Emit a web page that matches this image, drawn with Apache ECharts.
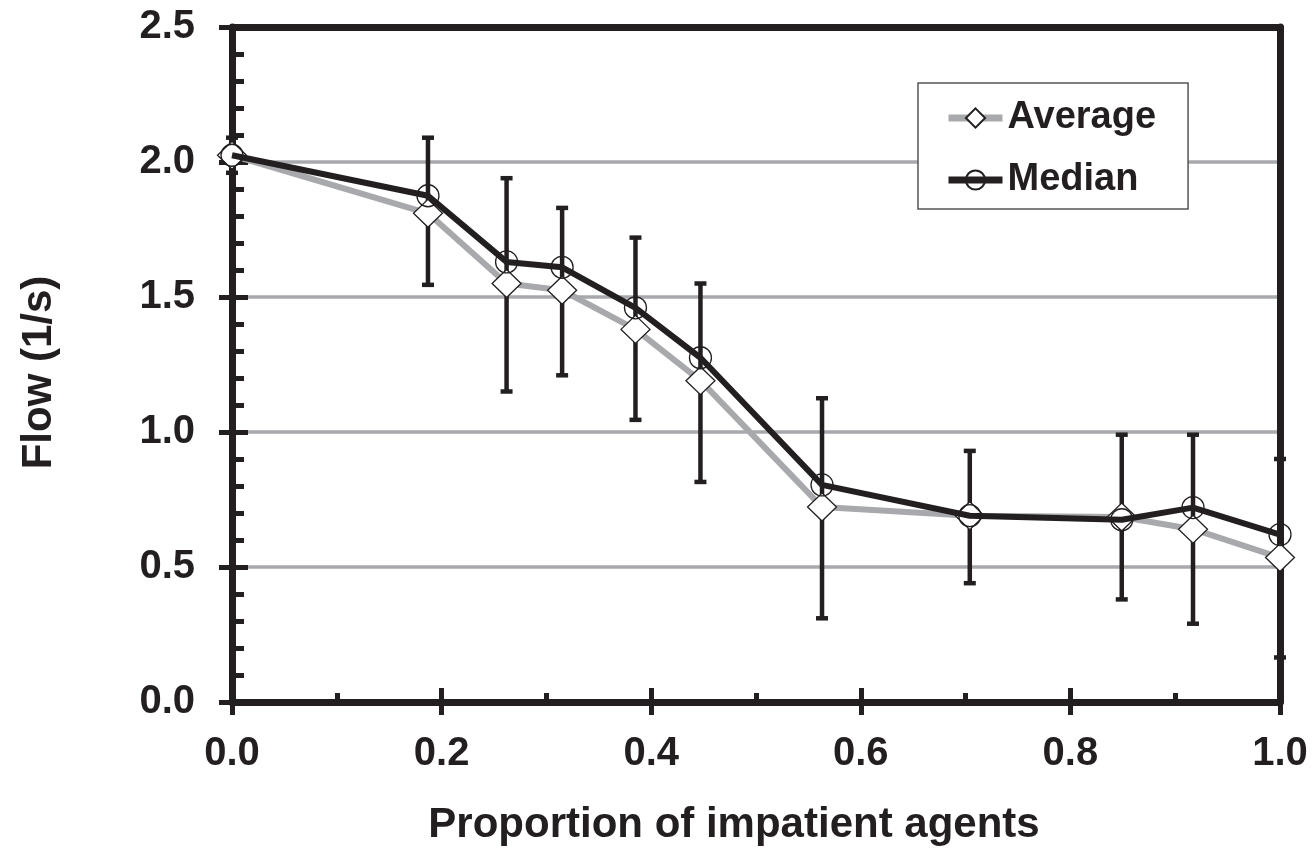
<!DOCTYPE html>
<html>
<head>
<meta charset="utf-8">
<script src="https://cdn.jsdelivr.net/npm/echarts@6/dist/echarts.min.js"></script>
<style>
  html, body { margin: 0; padding: 0; background: #fff; }
  #main { width: 1314px; height: 855px; }
</style>
</head>
<body>
<div id="main"></div>
<script>
// proportion of impatient agents (x)
var proportion = [0, 0.187, 0.262, 0.315, 0.385, 0.447, 0.563, 0.704, 0.849, 0.917, 1.0];
// flow values
var average = [2.025, 1.81, 1.55, 1.525, 1.38, 1.19, 0.722, 0.69, 0.685, 0.64, 0.535];
var median = [2.025, 1.875, 1.63, 1.61, 1.46, 1.275, 0.804, 0.69, 0.675, 0.72, 0.62];
// error bar ends
var errLow = [1.96, 1.545, 1.15, 1.21, 1.045, 0.815, 0.31, 0.44, 0.38, 0.29, 0.165];
var errHigh = [2.09, 2.09, 1.94, 1.83, 1.72, 1.55, 1.125, 0.93, 0.99, 0.99, 0.90];

var ink = '#231f20';
var grey = '#a7a9ac';
var font = 'Liberation Sans';

var avgData = proportion.map(function (x, i) { return [x, average[i]]; });
var medData = proportion.map(function (x, i) { return [x, median[i]]; });
var errData = proportion.map(function (x, i) { return [x, errLow[i], errHigh[i]]; });

var chart = echarts.init(document.getElementById('main'));

var hiddenAxisBits = {
    axisLabel: { show: false },
    splitLine: { show: false }
};

chart.setOption({
    backgroundColor: '#fff',
    animation: false,
    grid: { left: 232, top: 27, width: 1048, height: 675 },
    legend: {
        data: ['Average', 'Median'],
        orient: 'vertical',
        left: 918,
        top: 83,
        padding: [16, 32, 10, 27],
        itemGap: 24,
        itemWidth: 54,
        itemHeight: 24,
        backgroundColor: '#fff',
        borderColor: '#555',
        borderWidth: 1.5,
        borderRadius: 0,
        lineStyle: { width: 7 },
        textStyle: { fontFamily: font, fontWeight: 'bold', fontSize: 38, color: ink }
    },
    xAxis: [
        {
            type: 'value', min: 0, max: 1, interval: 0.2,
            name: 'Proportion of impatient agents',
            nameLocation: 'middle', nameGap: 102,
            nameTextStyle: {
                fontFamily: font, fontWeight: 'bold', fontSize: 42, color: ink,
                padding: [0, 44, 0, 0]
            },
            axisLine: { show: true, onZero: false, lineStyle: { color: ink, width: 7 } },
            axisTick: { show: true, inside: false, length: 13, lineStyle: { color: ink, width: 5 } },
            axisLabel: {
                margin: 32, fontFamily: font, fontWeight: 'bold', fontSize: 40, color: ink,
                formatter: function (v) { return v.toFixed(1); }
            },
            splitLine: { show: false }
        },
        Object.assign({
            type: 'value', min: 0, max: 1, interval: 0.2, position: 'bottom',
            axisLine: { show: false, onZero: false },
            axisTick: { show: true, inside: true, length: 14, lineStyle: { color: ink, width: 5 } },
            minorTick: { show: true, splitNumber: 2, length: 9, lineStyle: { color: ink, width: 5 } }
        }, hiddenAxisBits),
        Object.assign({
            type: 'value', min: 0, max: 1, position: 'top', z: 3,
            axisLine: { show: true, onZero: false, lineStyle: { color: ink, width: 7 } },
            axisTick: { show: false }
        }, hiddenAxisBits)
    ],
    yAxis: [
        {
            type: 'value', min: 0, max: 2.5, interval: 0.5,
            name: 'Flow (1/s)',
            nameLocation: 'middle', nameGap: 172,
            nameTextStyle: {
                fontFamily: font, fontWeight: 'bold', fontSize: 42, color: ink,
                padding: [0, 16, 0, 0]
            },
            axisLine: { show: true, onZero: false, lineStyle: { color: ink, width: 7 } },
            axisTick: { show: true, inside: false, length: 13, lineStyle: { color: ink, width: 5 } },
            axisLabel: {
                margin: 37, fontFamily: font, fontWeight: 'bold', fontSize: 40, color: ink,
                formatter: function (v) { return v.toFixed(1); }
            },
            splitLine: { show: true, lineStyle: { color: grey, width: 3.5 } }
        },
        Object.assign({
            type: 'value', min: 0, max: 2.5, interval: 0.5, position: 'left',
            axisLine: { show: false, onZero: false },
            axisTick: { show: true, inside: true, length: 16, lineStyle: { color: ink, width: 5 } },
            minorTick: { show: true, splitNumber: 5, length: 12, lineStyle: { color: ink, width: 5 } }
        }, hiddenAxisBits),
        Object.assign({
            type: 'value', min: 0, max: 2.5, position: 'right', z: 3,
            axisLine: { show: true, onZero: false, lineStyle: { color: ink, width: 7 } },
            axisTick: { show: false }
        }, hiddenAxisBits)
    ],
    series: [
        {
            name: 'range',
            type: 'custom',
            z: 2,
            data: errData,
            encode: { x: 0, y: [1, 2] },
            renderItem: function (params, api) {
                var x = api.value(0);
                var lo = api.coord([x, api.value(1)]);
                var hi = api.coord([x, api.value(2)]);
                var cap = 6;
                var style = { stroke: ink, lineWidth: 4.5 };
                return {
                    type: 'group',
                    children: [
                        { type: 'line', shape: { x1: hi[0], y1: hi[1], x2: lo[0], y2: lo[1] }, style: style },
                        { type: 'line', shape: { x1: hi[0] - cap, y1: hi[1], x2: hi[0] + cap, y2: hi[1] }, style: style },
                        { type: 'line', shape: { x1: lo[0] - cap, y1: lo[1], x2: lo[0] + cap, y2: lo[1] }, style: style }
                    ]
                };
            }
        },
        {
            name: 'Average',
            type: 'line',
            z: 4,
            data: avgData,
            symbol: 'diamond',
            symbolSize: [29, 28],
            lineStyle: { color: grey, width: 6 },
            itemStyle: { color: '#fff', borderColor: ink, borderWidth: 1.3 }
        },
        {
            name: 'Median',
            type: 'line',
            z: 5,
            data: medData,
            symbol: 'circle',
            symbolSize: 22,
            lineStyle: { color: ink, width: 6 },
            itemStyle: { color: 'rgba(255,255,255,0)', borderColor: ink, borderWidth: 1.3 }
        }
    ]
});
</script>
</body>
</html>
